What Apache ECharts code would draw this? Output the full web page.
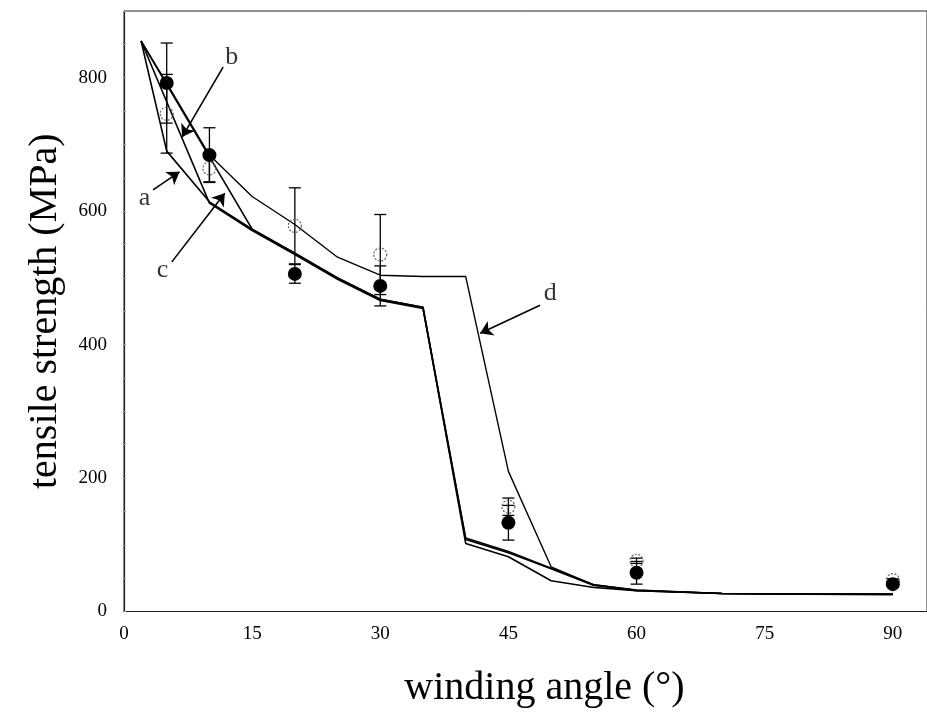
<!DOCTYPE html>
<html>
<head>
<meta charset="utf-8">
<script src="https://cdn.jsdelivr.net/npm/echarts@6/dist/echarts.min.js"></script>
<style>html,body{margin:0;padding:0;background:#fff;}#c{width:927px;height:717px;}</style>
</head>
<body>
<div id="c"></div>
<script>
// ---- data ----
const angles      = [5, 10, 20, 30, 45, 60, 90];
const filledMean  = [792, 684, 506, 488, 133, 58, 41];
const filledErr   = [60, 41, 14, 30, 26, 17, 3];
const openMean    = [746, 664, 578, 535, 157, 76, 47];
const openErr     = [59, 20, 57, 60, 13, 4, 2];

const lineA = [[2,855],[5,690],[10,614],[15,573],[20,537],[25,500],[30,468],[35,456],[40,110],[45,90],[50,65],[55,40],[60,32],[70,27],[80,26],[90,26]];
const lineB = [[2,855],[10,612],[15,571],[20,535],[25,498],[30,466],[35,454],[40,108],[45,88],[50,64],[55,39],[60,31],[70,27],[80,26],[90,25]];
const lineC = [[2,855],[15,573],[20,537],[25,500],[30,468],[35,456],[40,102],[45,82],[50,46],[55,36],[60,31],[70,27],[80,26],[90,26]];
const lineD = [[2,855],[5,792],[10,684],[15,622],[20,580],[25,531],[30,504],[35,502],[40,502],[45,210],[50,67],[55,40],[60,32],[70,27],[80,26],[90,26]];

const xTicks = [0, 15, 30, 45, 60, 75, 90];
const yTicks = [0, 200, 400, 600, 800];

const annoLabels  = ['a', 'b', 'c', 'd'];
const annoLabelAt = [[2.4,620],[12.6,831],[4.5,512],[49.9,477]];
const annoFrom    = [[3.4,632],[11.6,816],[5.6,524],[48.7,459]];
const annoTo      = [[6.5,659],[6.8,711],[11.8,627],[41.7,417]];

// ---- chart ----
const FONT = 'Liberation Serif';
const chart = echarts.init(document.getElementById('c'), null, {renderer: 'canvas'});

function errData(mean, err) {
  return angles.map((a, i) => [a, mean[i] - err[i], mean[i] + err[i]]);
}
function errRender(params, api) {
  const x = api.value(0);
  const lo = api.coord([x, api.value(1)]);
  const hi = api.coord([x, api.value(2)]);
  const w = 6;
  const st = {stroke: '#000', lineWidth: 1.3};
  return {
    type: 'group',
    children: [
      {type: 'line', shape: {x1: lo[0], y1: lo[1], x2: hi[0], y2: hi[1]}, style: st},
      {type: 'line', shape: {x1: lo[0]-w, y1: lo[1], x2: lo[0]+w, y2: lo[1]}, style: st},
      {type: 'line', shape: {x1: hi[0]-w, y1: hi[1], x2: hi[0]+w, y2: hi[1]}, style: st}
    ]
  };
}
function lineSeries(name, data, width) {
  return {
    name, type: 'line', data, symbol: 'none', silent: true,
    lineStyle: {color: '#000', width: width}, z: 3
  };
}

const option = {
  animation: false,
  backgroundColor: '#fff',
  grid: {
    left: 124, right: 0, top: 11, bottom: 105.5, show: true,
    borderColor: '#222', borderWidth: 1,
    containLabel: false, outerBoundsMode: 'none'
  },
  xAxis: {
    type: 'value', min: 0, max: 94, interval: 15,
    axisLine: {show: true, lineStyle: {color: '#222', width: 1.2}},
    axisTick: {show: false},
    splitLine: {show: false},
    axisLabel: {
      color: '#000', fontFamily: FONT, fontSize: 19, margin: 13,
      formatter: v => xTicks.includes(v) ? String(v) : ''
    },
    name: 'winding angle (°)', nameLocation: 'middle', nameGap: 57,
    nameTextStyle: {color: '#000', fontFamily: FONT, fontSize: 40, padding: [0, 0, 0, 38]}
  },
  yAxis: {
    type: 'value', min: 0, max: 900, interval: 200,
    axisLine: {show: true, lineStyle: {color: '#222', width: 1.2}},
    axisTick: {show: true, inside: true, length: 2, lineStyle: {color: '#999'}},
    minorTick: {show: true, splitNumber: 4, length: 2, lineStyle: {color: '#999'}},
    splitLine: {show: false},
    axisLabel: {
      color: '#000', fontFamily: FONT, fontSize: 19, margin: 17,
      formatter: v => yTicks.includes(v) ? String(v) : ''
    },
    name: 'tensile strength (MPa)', nameLocation: 'middle', nameGap: 59,
    nameTextStyle: {color: '#000', fontFamily: FONT, fontSize: 40}
  },
  series: [
    {type: 'custom', renderItem: errRender, data: errData(openMean, openErr), z: 2, silent: true},
    {type: 'custom', renderItem: errRender, data: errData(filledMean, filledErr), z: 2, silent: true},
    lineSeries('a', lineA, 1.6),
    lineSeries('b', lineB, 1.6),
    lineSeries('c', lineC, 1.6),
    lineSeries('d', lineD, 1.4),
    {
      type: 'scatter', data: angles.map((a, i) => [a, openMean[i]]),
      symbol: 'circle', symbolSize: 13, z: 4, silent: true,
      itemStyle: {color: 'rgba(255,255,255,0)', borderColor: '#666', borderWidth: 1.2, borderType: [2, 1.5], opacity: 1}
    },
    {
      type: 'scatter', data: angles.map((a, i) => [a, filledMean[i]]),
      symbol: 'circle', symbolSize: 14, z: 5, silent: true,
      itemStyle: {color: '#000', opacity: 1}
    },
    {
      type: 'lines', coordinateSystem: 'cartesian2d', z: 6, silent: true,
      symbol: ['none', 'arrow'], symbolSize: [1, 12],
      lineStyle: {color: '#000', width: 1.6, opacity: 1, curveness: 0},
      data: annoFrom.map((f, i) => ({coords: [f, annoTo[i]]}))
    },
    {
      type: 'scatter', symbolSize: 0, z: 6, silent: true,
      data: annoLabelAt.map((p, i) => ({value: p, name: annoLabels[i]})),
      label: {
        show: true, position: 'inside', formatter: p => p.name,
        color: '#000', fontFamily: FONT, fontSize: 26
      }
    }
  ]
};
chart.setOption(option);
</script>
</body>
</html>
